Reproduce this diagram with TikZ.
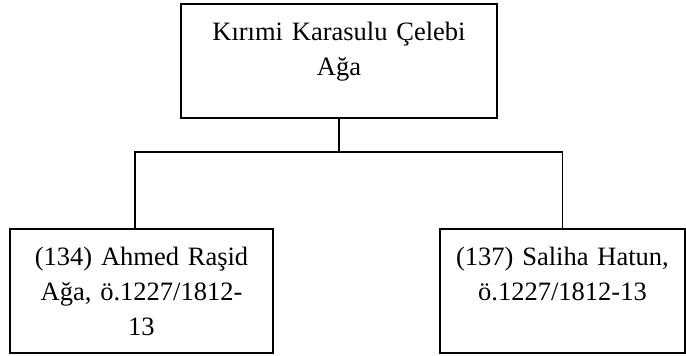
\documentclass[tikz,border=0pt]{standalone}
\usepackage{fontspec}
\setmainfont{Liberation Serif}
\usepackage{tikz}

\tikzset{
  kutu/.style={draw, line width=1.6pt, anchor=north, align=center,
    inner xsep=4pt, inner ysep=0pt, text height=37pt,
    font=\fontsize{26.5}{35}\selectfont},
  bag/.style={line width=1.6pt}
}

\begin{document}
\begin{tikzpicture}[x=1pt,y=1pt]
    \useasboundingbox (0,0) rectangle (686,356);

    \node[kutu, text width=308pt, text depth=77pt] (kirimi) at (339,353) {Kırımi Karasulu Çelebi\\Ağa};

    \node[kutu, text width=255pt, text depth=87pt] (ahmed) at (141.5,128) {(134) Ahmed Raşid\\Ağa, ö.1227/1812-\\13};
    \node[kutu, text width=237pt, text depth=87pt] (saliha) at (562.5,128) {(137) Saliha Hatun,\\ö.1227/1812-13};

    \coordinate (catal) at (339,204);
    \draw[bag] (kirimi.south) -- (catal);
    \draw[bag] (catal) -| ([xshift=-6.5pt]ahmed.north);
    \draw[bag] (catal) -| (saliha.north);
\end{tikzpicture}
\end{document}
